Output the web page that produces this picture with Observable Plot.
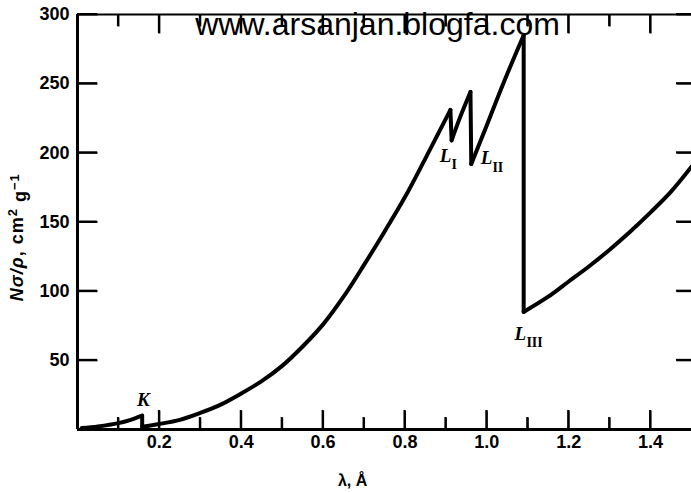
<!DOCTYPE html>
<html><head><meta charset="utf-8">
<script src="https://cdn.jsdelivr.net/npm/d3@7"></script>
<script src="https://cdn.jsdelivr.net/npm/@observablehq/plot@0.6"></script>
<style>body{margin:0;background:#fff}</style>
</head><body><div id="chart"></div>
<script>
// Absorption curve (mass absorption coefficient vs wavelength)
const wavelength = [0.01,0.05,0.10,0.13,0.158,
  0.158,0.20,0.25,0.30,0.35,0.40,0.45,0.50,0.55,0.60,0.65,0.70,0.75,0.80,0.85,0.911,
  0.914,0.935,0.960,
  0.962,1.00,1.04,1.09,
  1.09,1.15,1.20,1.25,1.30,1.35,1.40,1.45,1.50];
const massAbs = [1,2.2,4.6,7,10,
  2,4,7,12,18,26,35,46,60,76,96,119,143,168,196,231,
  209,226,244,
  192,220,250,285,
  85,96,107,118,130,143,157,172,190];
const branch = [0,0,0,0,0,
  1,1,1,1,1,1,1,1,1,1,1,1,1,1,1,1,
  2,2,2,
  3,3,3,3,
  4,4,4,4,4,4,4,4,4];

// absorption edges
const edgeName = ["K","L","L","L"];
const edgeSub = ["","I","II","III"];
const edgeLambdaHigh = [0.158,0.911,0.960,1.09];
const edgeHigh = [10,231,244,285];
const edgeLambdaLow = [0.158,0.914,0.962,1.09];
const edgeLow = [2,209,192,85];
const labelLambda = [0.161,0.899,0.999,1.082];
const labelMu = [21.7,198,196,69.4];

// axes
const xMajor = [0.2,0.4,0.6,0.8,1.0,1.2,1.4];
const xMinor = [0.1,0.3,0.5,0.7,0.9,1.1,1.3];
const yMajor = [50,100,150,200,250,300];
const xDomain = [0, 1.5];
const yDomain = [0, 300];
const xTitle = "λ, Å";
const yTitle = "Nσ/ρ, cm² g⁻¹";
const watermark = "www.arsanjan.blogfa.com";

const data = wavelength.map((w,i)=>({w, mu: massAbs[i], branch: branch[i]}));
const edges = edgeName.map((n,i)=>({n, sub: edgeSub[i], x1: edgeLambdaHigh[i], y1: edgeHigh[i],
  x2: edgeLambdaLow[i], y2: edgeLow[i], lx: labelLambda[i], ly: labelMu[i]}));

const W = 691, H = 493, ML = 77, MR = 0, MT = 14, MB = 64;
const FW = W - ML - MR, FH = H - MT - MB;
const pxY = px => px * (yDomain[1] - yDomain[0]) / FH;
const pxX = px => px * (xDomain[1] - xDomain[0]) / FW;
const fmt1 = d => d.toFixed(1);

// inward tick segments, built from the tick arrays (lengths given in pixels)
const tickSegs = [
  ...xMajor.map(v => ({x1: v, x2: v, y1: yDomain[0], y2: yDomain[0] + pxY(19)})),
  ...xMinor.map(v => ({x1: v, x2: v, y1: yDomain[0], y2: yDomain[0] + pxY(12)})),
  ...xMajor.map(v => ({x1: v, x2: v, y1: yDomain[1] - pxY(19), y2: yDomain[1]})),
  ...xMinor.map(v => ({x1: v, x2: v, y1: yDomain[1] - pxY(12), y2: yDomain[1]})),
  ...yMajor.map(v => ({x1: xDomain[0], x2: xDomain[0] + pxX(20), y1: v, y2: v})),
  ...yMajor.map(v => ({x1: xDomain[1] - pxX(15), x2: xDomain[1], y1: v, y2: v}))
];

const chart = Plot.plot({
  width: W, height: H,
  marginLeft: ML, marginRight: MR, marginTop: MT, marginBottom: MB,
  style: "font: bold 18px 'Liberation Sans', Arial, sans-serif; background: white; color: black; overflow: visible;",
  x: {domain: xDomain, axis: null, label: null},
  y: {domain: yDomain, axis: null, label: null},
  marks: [
    Plot.text([watermark], {x: 0.733, y: 285.5, text: d => d, lineAnchor: "bottom", fontSize: 32, fontWeight: "normal", fontFamily: "'Liberation Sans', Arial, sans-serif"}),
    Plot.text([xTitle], {x: 0.672, y: -36.9, text: d => d, fontSize: 16, fontWeight: "bold"}),
    Plot.text([yTitle], {x: -0.147, y: 139, text: d => d, rotate: -90, fontSize: 18, fontWeight: "bold"}),
    Plot.axisX(xMajor, {anchor: "bottom", tickSize: 0, tickPadding: 6, tickFormat: fmt1, fontSize: 18, fontWeight: "bold", label: null}),
    Plot.axisY(yMajor, {anchor: "left", tickSize: 0, tickPadding: 8, fontSize: 18, fontWeight: "bold", label: null}),
    Plot.line(data, {x: "w", y: "mu", z: "branch", curve: "catmull-rom", stroke: "black", strokeWidth: 4, strokeLinecap: "round", strokeLinejoin: "round"}),
    Plot.link(edges, {x1: "x1", y1: "y1", x2: "x2", y2: "y2", stroke: "black", strokeWidth: 4, strokeLinecap: "round"}),
    Plot.text(edges, {x: "lx", y: "ly", text: "n", fontFamily: "'Liberation Serif', serif", fontStyle: "italic", fontWeight: "bold", fontSize: 19, textAnchor: "middle"}),
    Plot.text(edges, {x: "lx", y: "ly", text: "sub", fontFamily: "'Liberation Serif', serif", fontWeight: "bold", fontSize: 14, textAnchor: "start", dx: 6, dy: 9}),
    Plot.ruleX([xDomain[0]], {strokeWidth: 3}),
    Plot.ruleY([yDomain[0]], {strokeWidth: 3}),
    Plot.ruleY([yDomain[1]], {strokeWidth: 2}),
    Plot.link(tickSegs, {x1: "x1", x2: "x2", y1: "y1", y2: "y2", stroke: "black", strokeWidth: 2})
  ]
});
document.getElementById("chart").appendChild(chart);

// draw the inward ticks again on top, through the chart's own scales
const sx = chart.scale("x"), sy = chart.scale("y");
const tg = d3.select(chart).append("g").attr("stroke", "black").attr("stroke-width", 2);
tickSegs.forEach(s => {
  tg.append("line")
    .attr("x1", sx.apply(s.x1)).attr("x2", sx.apply(s.x2))
    .attr("y1", sy.apply(s.y1)).attr("y2", sy.apply(s.y2));
});

// rich text for the y title
d3.select(chart).selectAll("text").filter(function(){ return this.textContent === yTitle; }).each(function(){
  const t = d3.select(this).attr("letter-spacing", 1);
  t.text("");
  t.append("tspan").attr("font-style", "italic").text("Nσ/ρ");
  t.append("tspan").text(", cm");
  t.append("tspan").attr("font-size", 13).attr("dy", "-0.5em").text("2");
  t.append("tspan").attr("dy", "0.5em").text(" g");
  t.append("tspan").attr("font-size", 13).attr("dy", "-0.5em").text("−1");
});
</script></body></html>
